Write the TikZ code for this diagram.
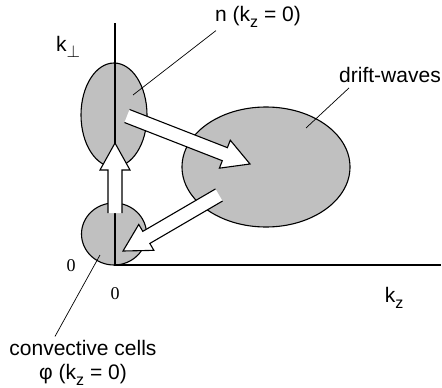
\documentclass[tikz,border=0pt]{standalone}
\usepackage{fontspec}
\setmainfont{Liberation Sans}
\newfontfamily\serifzero{Liberation Serif}
\usetikzlibrary{calc,shapes.geometric}
\definecolor{dotGray}{RGB}{192,192,192}

% lowered subscript as in the original lettering
\newcommand\lowsub[1]{\raisebox{-.5ex}{\fontsize{16}{16}\selectfont #1}}

% hollow block arrow from #1 (open tail) to #2 (tip)
\newcommand\fatarrow[2]{%
  \coordinate (hb) at ($(#2)!27pt!(#1)$);
  \path ($(#1)!7pt!90:(#2)$) coordinate (s1) ($(hb)!7pt!90:(#2)$) coordinate (s2)
        ($(hb)!15pt!90:(#2)$) coordinate (s3) ($(hb)!15pt!-90:(#2)$) coordinate (s4)
        ($(hb)!7pt!-90:(#2)$) coordinate (s5) ($(#1)!7pt!-90:(#2)$) coordinate (s6);
  \fill[white] (s1) -- (s2) -- (s3) -- (#2) -- (s4) -- (s5) -- (s6) -- cycle;
  \draw[fatarrow] (s1) -- (s2) -- (s3) -- (#2) -- (s4) -- (s5) -- (s6);
}

\begin{document}
\begin{tikzpicture}[x=1pt,y=-1pt,
  spot/.style={ellipse,draw,line width=1.1pt,fill=dotGray,inner sep=0pt},
  lbl/.style={font=\fontsize{21}{24}\selectfont,inner sep=0pt},
  zero/.style={font=\serifzero\fontsize{18}{20}\selectfont,inner sep=0pt},
  leader/.style={line width=.7pt},
  fatarrow/.style={line width=1.1pt,line join=miter}]
\useasboundingbox (0,0) rectangle (442,388);

% spectral regions
\node[spot,minimum width=66pt,minimum height=104pt] (nmode) at (114,115) {};
\node[spot,minimum width=65pt,minimum height=62pt] (cells) at (114,234) {};
\node[spot,minimum width=168pt,minimum height=120pt] (driftwaves) at (266,167) {};

% axes
\coordinate (origin) at (115,265);
\coordinate (ktop) at (115,23);
\coordinate (kend) at (441,265);
\draw[line width=1.2pt] (ktop) -- (origin) -- (kend);

% labels
\node[lbl] (kperp) at (68,47) {k\lowsub{$\perp$}};
\node[lbl] (kz) at (394,298) {k\lowsub{z}};
\node[zero] (zeroy) at (71,266) {0};
\node[zero] (zerox) at (115,294) {0};
\node[lbl] (nlabel) at (258,17) {n (k\lowsub{z} = 0)};
\node[lbl] (dwlabel) at (390,75) {drift-waves};
\node[lbl,align=center] (cclabel) at (83,363) {convective cells\\φ (k\lowsub{z} = 0)};

\draw[leader] ($(nlabel.south west)+(1,3)$) -- ($(nmode.center)+(19,-20)$);
\draw[leader] ($(dwlabel.south west)+(10,5)$) -- ($(driftwaves.center)+(40,-39)$);
\draw[leader] ($(cclabel.north)+(-28,-4)$) -- ($(cells.center)+(-14,21)$);

% transfer arrows
\coordinate (upTail) at (115,213);
\coordinate (upTip) at (115,143);
\coordinate (outTail) at (127,116);
\coordinate (outTip) at (250,164);
\coordinate (backTail) at (219,195);
\coordinate (backTip) at (123,251);
\fatarrow{upTail}{upTip}
\fatarrow{outTail}{outTip}
\fatarrow{backTail}{backTip}
\end{tikzpicture}
\end{document}
